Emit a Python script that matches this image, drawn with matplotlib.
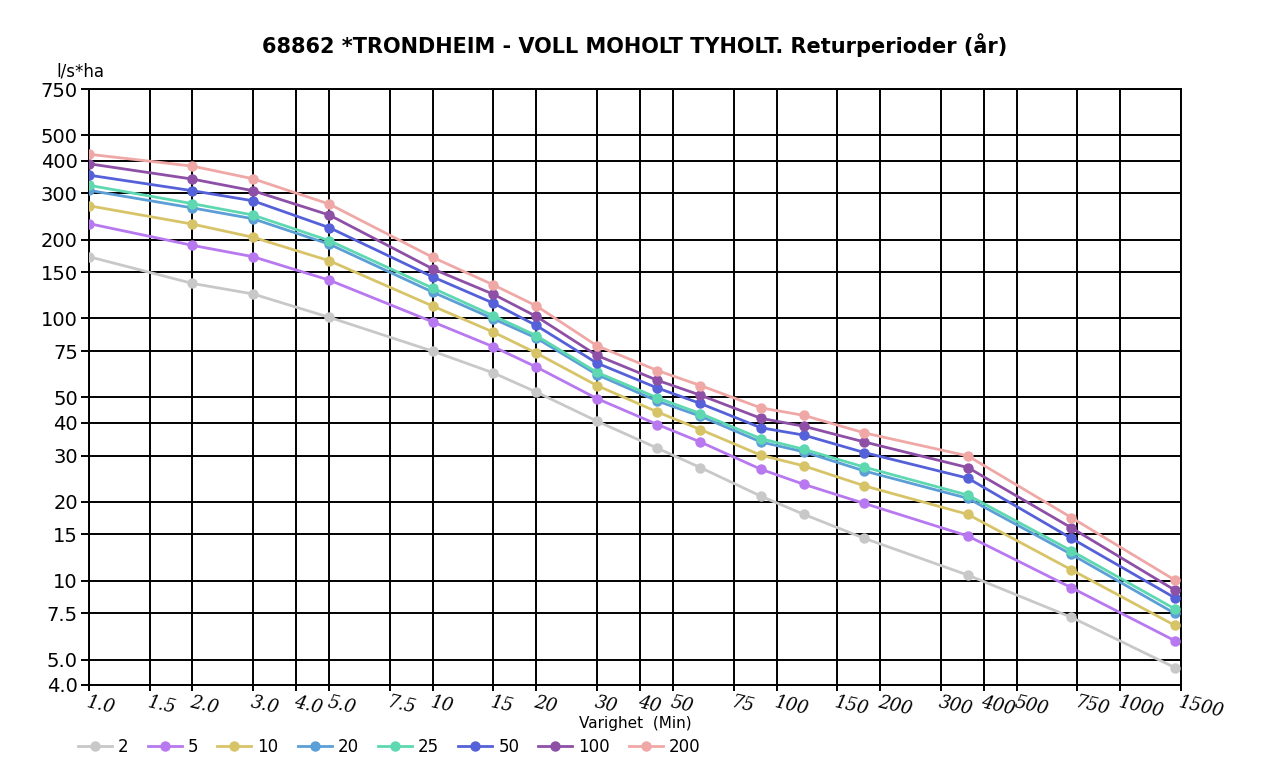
import numpy as np
import matplotlib
matplotlib.use('Agg')
import matplotlib.pyplot as plt
from matplotlib.legend_handler import HandlerLine2D

plt.rcParams['font.family'] = ['DejaVu Sans']

# varighet (min) og intensitet (l/s*ha) per returperiode
durations = [1, 2, 3, 5, 10, 15, 20, 30, 45, 60, 90, 120, 180, 360, 720, 1440]
r2 = [172, 136, 124, 101, 75, 62, 52.4, 40.6, 32, 27, 21, 17.9, 14.5, 10.5, 7.25, 4.66]
r5 = [230, 190, 172, 140, 97, 78, 65.3, 49.5, 39.4, 33.8, 26.6, 23.3, 19.7, 14.8, 9.4, 5.9]
r10 = [269, 229, 204, 166, 111.5, 88.7, 73.8, 55.5, 44, 37.7, 30.1, 27.4, 23, 17.9, 11, 6.75]
r20 = [308, 264, 240, 192, 126, 99.7, 84.2, 61.1, 48.4, 42.4, 33.8, 31, 26.2, 20.6, 12.6, 7.5]
r25 = [322, 274, 248, 198, 130.5, 102.4, 86, 62.3, 49.8, 43.4, 34.8, 31.7, 27.1, 21.2, 13, 7.8]
r50 = [352, 307, 281, 222, 144, 114.4, 94, 67.6, 54.3, 47.4, 38.3, 35.9, 30.8, 24.6, 14.5, 8.6]
r100 = [389, 340, 307, 248, 154.5, 123.7, 101.8, 72.3, 58.1, 51, 41.6, 38.8, 33.8, 27, 15.9, 9.2]
r200 = [423, 381, 341, 273, 171, 134.3, 111.7, 78.7, 63.3, 55.5, 45.6, 42.7, 36.6, 29.9, 17.4, 10.05]

series_labels = ['2', '5', '10', '20', '25', '50', '100', '200']
series_values = [r2, r5, r10, r20, r25, r50, r100, r200]
colors = ['#c8c8c8', '#b878f0', '#d8c468', '#5c9fd6', '#5ed8b0', '#5561d8', '#8e4fa6', '#efa8a6']

x_ticks = [1, 1.5, 2, 3, 4, 5, 7.5, 10, 15, 20, 30, 40, 50, 75, 100, 150, 200, 300, 400, 500, 750, 1000, 1500]
x_ticklabels = ['1.0', '1.5', '2.0', '3.0', '4.0', '5.0', '7.5', '10', '15', '20', '30', '40', '50',
                '75', '100', '150', '200', '300', '400', '500', '750', '1000', '1500']
y_ticks = [4, 5, 7.5, 10, 15, 20, 30, 40, 50, 75, 100, 150, 200, 300, 400, 500, 750]
y_ticklabels = ['4.0', '5.0', '7.5', '10', '15', '20', '30', '40', '50', '75', '100', '150',
                '200', '300', '400', '500', '750']


# legend: markør i venstre ende av linja
class MarkerFirstHandler(HandlerLine2D):
    def get_xdata(self, legend, xdescent, ydescent, width, height, fontsize):
        xdata = [-xdescent + 3.6, -xdescent + width]
        return xdata, [-xdescent + 3.6]


fig = plt.figure(figsize=(12.62, 7.72), dpi=100)
ax = fig.add_axes([0.0705, 0.1127, 0.8653, 0.772])

for lab, vals, col in zip(series_labels, series_values, colors):
    ax.plot(durations, vals, color=col, linewidth=2.0, marker='o', markersize=7.5,
            markeredgewidth=0, label=lab, zorder=3)

ax.set_xscale('log')
ax.set_yscale('log')
ax.set_xlim(1, 1500)
ax.set_ylim(4, 750)
ax.minorticks_off()

ax.set_xticks(x_ticks)
ax.set_xticklabels(x_ticklabels, rotation=-13, ha='left', va='top', rotation_mode='anchor',
                   fontsize=13, style='italic', family='DejaVu Serif')
ax.set_yticks(y_ticks)
ax.set_yticklabels(y_ticklabels, fontsize=14)
ax.tick_params(axis='y', direction='out', length=6, width=1.4, color='black', pad=2)
ax.tick_params(axis='x', direction='out', length=4, width=1.4, color='black', pad=2)

ax.grid(True, which='major', color='black', linewidth=1.4, zorder=1)
ax.set_axisbelow(True)
for sp in ax.spines.values():
    sp.set_linewidth(1.4)
    sp.set_color('black')

ax.set_title('68862 *TRONDHEIM - VOLL MOHOLT TYHOLT. Returperioder (år)',
             fontsize=15, fontweight='bold', pad=26)
ax.text(-0.03, 1.015, 'l/s*ha', transform=ax.transAxes, fontsize=12, ha='left', va='bottom')
ax.set_xlabel('Varighet  (Min)', fontsize=11)
ax.xaxis.set_label_coords(0.5, -0.052)

ax.legend(loc='center left', bbox_to_anchor=(0.0578, 0.0324), bbox_transform=fig.transFigure,
          ncol=8, frameon=False, fontsize=12, handlelength=2.34, handletextpad=0.36,
          columnspacing=0.85, borderpad=0, borderaxespad=0,
          handler_map={plt.Line2D: MarkerFirstHandler()})

fig.savefig('out.png', dpi=100)
